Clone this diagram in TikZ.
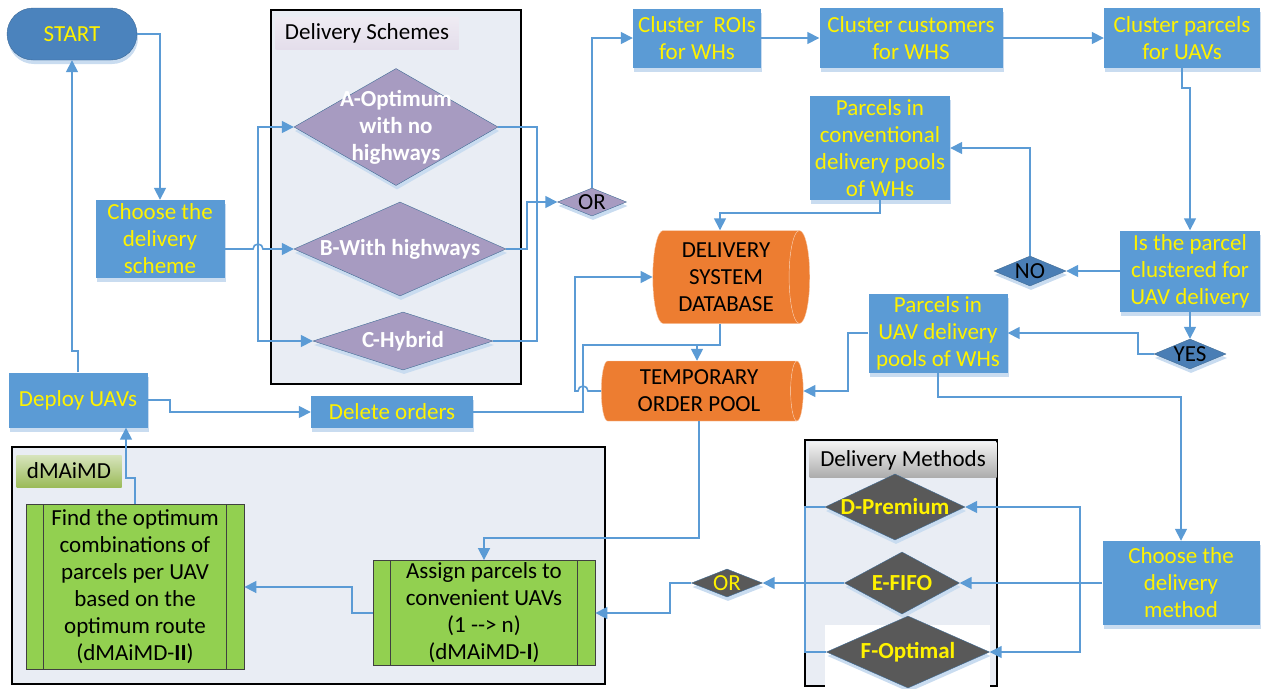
\documentclass[tikz,border=0pt]{standalone}
\usepackage{fontspec}
\setmainfont{Carlito}
\usetikzlibrary{shapes.geometric,arrows.meta,shadows,calc}

\definecolor{boxblue}{HTML}{5B9BD5}
\definecolor{startblue}{HTML}{4B83BD}
\definecolor{lineblue}{HTML}{5B9BD5}
\definecolor{shadowblue}{HTML}{C9DCF0}
\definecolor{panelgray}{HTML}{E9EDF4}
\definecolor{schemepurple}{HTML}{A79BC1}
\definecolor{steelblue}{HTML}{4A7EB5}
\definecolor{dborange}{HTML}{ED7D31}
\definecolor{methodgray}{HTML}{595959}
\definecolor{procgreen}{HTML}{92D050}
\definecolor{headlilac}{HTML}{E4DEEB}
\definecolor{headolive}{HTML}{9BBB59}
\definecolor{headlight}{HTML}{D7E4BD}

\begin{document}
\begin{tikzpicture}[x=1pt, y=-1pt, ->, >={Triangle[length=12pt,width=12pt]},
  font=\fontsize{23}{27}\selectfont]
\tikzstyle{link}=[draw=lineblue, line width=1.6pt]
\tikzstyle{box}=[rectangle, fill=boxblue, text=yellow, align=center, inner sep=0pt,
  drop shadow={shadow xshift=1pt, shadow yshift=-4pt, fill=shadowblue, opacity=1}]
\tikzstyle{choice}=[diamond, inner sep=0pt, draw=lineblue!70!black, thin,
  drop shadow={shadow xshift=1pt, shadow yshift=-4pt, fill=shadowblue, opacity=1}]
\tikzstyle{choicetext}=[align=center, inner sep=0pt]
\tikzstyle{panel}=[fill=panelgray, draw=black, line width=2pt]
\tikzstyle{head}=[rectangle, inner sep=0pt, text=black, minimum height=32]
\tikzstyle{proc}=[rectangle, fill=procgreen, draw=black!75, thick, align=center, inner sep=0pt]
\tikzstyle{store}=[cylinder, shape aspect=0.3, cylinder uses custom fill,
  cylinder body fill=dborange, cylinder end fill=dborange, draw=dborange!40!white, thin,
  align=center, inner sep=0pt]

% panels
\filldraw[panel, -] (271,10) rectangle (521,384);
\filldraw[panel, -] (12,447) rectangle (605,684);
\filldraw[panel, -] (805,440) rectangle (997,686);
\fill[white, -] (825,625) rectangle (990,687);

\node[head, top color=headlilac!60, bottom color=headlilac, minimum width=183] (schemehead) at (367,33) {Delivery Schemes};
\node[head, top color=gray!10, bottom color=gray!65, minimum width=187, minimum height=35] (methodhead) at (903,460) {Delivery Methods};
\node[head, top color=headlight, bottom color=headolive, minimum width=105] (algohead) at (69,471) {dMAiMD};

% blue steps
\node[rectangle, rounded corners=26, fill=startblue, draw=startblue!80!black, thin, text=yellow,
  minimum width=130, minimum height=52,
  drop shadow={shadow xshift=1pt, shadow yshift=-4pt, fill=shadowblue, opacity=1}] (start) at (72,34) {START};
\node[box, minimum width=129, minimum height=78] (scheme) at (160,239) {Choose the\\delivery\\scheme};
\node[box, minimum width=139, minimum height=55] (deploy) at (78,400) {Deploy UAVs};
\node[box, minimum width=162, minimum height=32] (delete) at (392,412) {Delete orders};
\node[box, minimum width=128, minimum height=59] (roi) at (697,38) {Cluster\ \ ROIs\\for WHs};
\node[box, minimum width=183, minimum height=60] (cust) at (911,38) {Cluster customers\\for WHS};
\node[box, minimum width=156, minimum height=60] (cpar) at (1182,38) {Cluster parcels\\for UAVs};
\node[box, minimum width=140, minimum height=104] (conv) at (880,148) {Parcels in\\conventional\\delivery pools\\of WHs};
\node[box, minimum width=140, minimum height=81] (isclu) at (1190,271) {Is the parcel\\clustered for\\UAV delivery};
\node[box, minimum width=139, minimum height=79] (uavpool) at (938,333) {Parcels in\\UAV delivery\\pools of WHs};
\node[box, minimum width=157, minimum height=84] (method) at (1181,583) {Choose the\\delivery\\method};

% storage
\node[store, minimum height=157, minimum width=93] (db) at (726,277) {DELIVERY\\SYSTEM\\DATABASE};
\node[store, minimum height=202, minimum width=60] (temp) at (699,391) {TEMPORARY\\ORDER POOL};

% scheme choices
\node[choice, fill=schemepurple, minimum width=204, minimum height=117] (A) at (396,127) {};
\node[choicetext, text=white, font=\fontsize{23}{27}\selectfont\bfseries] (Atxt) at (A) {A-Optimum\\with no\\highways};
\node[choice, fill=schemepurple, minimum width=212, minimum height=94] (B) at (400,249) {};
\node[choicetext, text=white, font=\fontsize{23}{27}\selectfont\bfseries] (Btxt) at (B) {B-With highways};
\node[choice, fill=schemepurple, minimum width=180, minimum height=58] (C) at (403,341) {};
\node[choicetext, text=white, font=\fontsize{23}{27}\selectfont\bfseries] (Ctxt) at (C) {C-Hybrid};
\node[choice, fill=schemepurple, minimum width=69, minimum height=28] (orA) at (592,202) {};
\node[choicetext, text=black] (orAtxt) at (orA) {OR};

% yes / no
\node[choice, fill=steelblue, minimum width=72, minimum height=30] (no) at (1030,271) {};
\node[choicetext, text=black] (notxt) at (no) {NO};
\node[choice, fill=steelblue, minimum width=72, minimum height=30] (yes) at (1190,354) {};
\node[choicetext, text=black] (yestxt) at (yes) {YES};

% method choices
\node[choice, fill=methodgray, minimum width=140, minimum height=66] (D) at (895,507) {};
\node[choicetext, text=yellow, font=\fontsize{23}{27}\selectfont\bfseries] (Dtxt) at (D) {D-Premium};
\node[choice, fill=methodgray, minimum width=115, minimum height=62] (E) at (902,583) {};
\node[choicetext, text=yellow, font=\fontsize{23}{27}\selectfont\bfseries] (Etxt) at (E) {E-FIFO};
\node[choice, fill=methodgray, minimum width=163, minimum height=72] (F) at (908,652) {};
\node[choicetext, text=yellow, font=\fontsize{23}{27}\selectfont\bfseries] (Ftxt) at (F) {F-Optimal};
\node[choice, fill=methodgray, minimum width=71, minimum height=28] (orB) at (727,583) {};
\node[choicetext, text=yellow] (orBtxt) at (orB) {OR};

% dMAiMD steps
\node[proc, minimum width=218, minimum height=165] (find) at (135,587) {Find the optimum\\combinations of\\parcels per UAV\\based on the\\optimum route\\(dMAiMD-\textbf{II})};
\node[proc, minimum width=222, minimum height=105] (assign) at (484,613) {Assign parcels to\\convenient UAVs\\(1 -{}-> n)\\(dMAiMD-\textbf{I})};
\draw[-, black!75, thick] ([xshift=18pt]find.north west) -- ([xshift=18pt]find.south west);
\draw[-, black!75, thick] ([xshift=-18pt]find.north east) -- ([xshift=-18pt]find.south east);
\draw[-, black!75, thick] ([xshift=18pt]assign.north west) -- ([xshift=18pt]assign.south west);
\draw[-, black!75, thick] ([xshift=-18pt]assign.north east) -- ([xshift=-18pt]assign.south east);

% helper columns
\coordinate (dbcol) at (720,0);
\coordinate (upcol) at (126,0);

% connectors
\draw[link] (start.east) -| (scheme.north);
\draw[link] (B.west -| scheme.east) -- (253,249) arc[start angle=180, end angle=360, radius=5] -- (B.west);
\draw[link, <->] (A.west) -- (258,127) -- (258,341) -- (C.west);
\draw[link, -] (A.east) -- (537,127) -- (537,341) -- (C.east);
\draw[link] (B.east) -- (527,249) |- (orA.west);
\draw[link] (orA.north) |- (roi.west);
\draw[link] (roi) -- (cust);
\draw[link] (cust) -- (cpar);
\draw[link] (cpar.south) -- (1182,88) -- (1190,88) -- (isclu.north);
\draw[link] (isclu.west) -- (no.east);
\draw[link] (no.north) |- (conv.east);
\draw[link] (conv.south) |- (720,213) -- (db.north -| dbcol);
\draw[link] (isclu.south) -- (yes.north);
\draw[link] (yes.west) -- (1138,354) |- (uavpool.east);
\draw[link] (uavpool.west) -- (848,333) |- (temp.east);
\draw[link] (uavpool.south) |- (1181,397) -- (method.north);
\draw[link] (db.south -| dbcol) -- (720,345) -- (697,345) -- (temp.north -| 697,0);
\draw[link, -] (delete.east) -| (583,345) -- (697,345);
\draw[link] (temp.west) -- (588,391) arc[start angle=0, end angle=-180, radius=5] -- (575,391) |- (db.west);
\draw[link] (temp.south) -- (699,538) -| (assign.north);
\draw[link] (method.west) -- (E.east);
\draw[link, <->] (D.east) -- (1080,507) -- (1080,652) -- (F.east);
\draw[link, -] (D.west) -- (805,507) -- (805,652) -- (F.west);
\draw[link] (E.west) -- (orB.east);
\draw[link] (orB.west) -- (670,583) |- (assign.east);
\draw[link] (assign.west) -- (352,613) |- (find.east);
\draw[link] (find.north) -- (135,478) -| (deploy.south -| upcol);
\draw[link] (deploy.north) -- (78,351) -| (start.south);
\draw[link] (deploy.east) -- (170,400) |- (delete.west);

\useasboundingbox (0,0) rectangle (1267,687);
\end{tikzpicture}
\end{document}
